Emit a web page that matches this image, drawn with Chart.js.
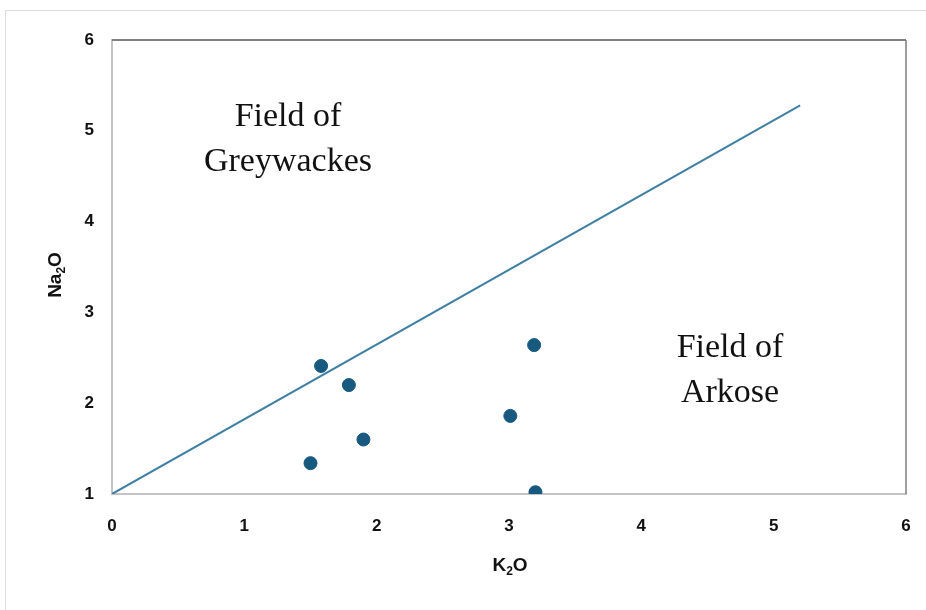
<!DOCTYPE html>
<html><head><meta charset="utf-8">
<script src="https://cdn.jsdelivr.net/npm/chart.js@4"></script>
<style>
html,body{margin:0;padding:0;background:#fff;}
#wrap{position:relative;width:926px;height:610px;overflow:hidden;}
#frame{position:absolute;left:5px;top:10px;width:940px;height:640px;border:1.5px solid #dcdcdc;box-sizing:border-box;}
canvas{position:absolute;left:0;top:0;}
</style></head>
<body><div id="wrap"><div id="frame"></div><canvas id="c" width="926" height="610"></canvas></div>
<script>
const k2o = [1.50, 1.58, 1.79, 1.90, 3.01, 3.19, 3.20];
const na2o = [1.34, 2.41, 2.20, 1.60, 1.86, 2.64, 1.02];
const lineX = [0, 5.2];
const lineY = [1, 5.28];
const xTicks = [0,1,2,3,4,5,6];
const yTicks = [1,2,3,4,5,6];
const labels = [
  {lines:["Field of","Greywackes"], x:1.33, y:5.15},
  {lines:["Field of","Arkose"], x:4.67, y:2.61}
];

const extras = {
  id:'extras',
  afterDraw(chart){
    const ctx = chart.ctx, a = chart.chartArea;
    const xs = chart.scales.x, ys = chart.scales.y;
    ctx.save();
    ctx.strokeStyle = '#7f7f7f';
    ctx.lineWidth = 2;
    ctx.beginPath(); ctx.moveTo(a.left, a.top); ctx.lineTo(a.right, a.top); ctx.stroke();
    ctx.lineWidth = 1.5;
    ctx.beginPath(); ctx.moveTo(a.right, a.top); ctx.lineTo(a.right, a.bottom); ctx.stroke();
    ctx.fillStyle = '#111';
    ctx.font = '34px "Liberation Serif", "Times New Roman", serif';
    ctx.textAlign = 'center'; ctx.textBaseline = 'middle';
    labels.forEach(l => {
      const px = xs.getPixelForValue(l.x), py = ys.getPixelForValue(l.y);
      l.lines.forEach((t,i) => ctx.fillText(t, px, py + i*45));
    });
    function sub(parts, cx, cy, rot){
      ctx.save();
      ctx.translate(cx, cy); ctx.rotate(rot);
      ctx.fillStyle = '#111';
      ctx.textBaseline = 'alphabetic'; ctx.textAlign = 'left';
      const big = 'bold 19px "Liberation Sans", Arial, sans-serif';
      const small = 'bold 12px "Liberation Sans", Arial, sans-serif';
      let w = 0;
      parts.forEach(p => { ctx.font = p.s ? small : big; w += ctx.measureText(p.t).width; });
      let x = -w/2;
      parts.forEach(p => {
        ctx.font = p.s ? small : big;
        ctx.fillText(p.t, x, p.s ? 11 : 7);
        x += ctx.measureText(p.t).width;
      });
      ctx.restore();
    }
    sub([{t:'K'},{t:'2',s:1},{t:'O'}], (a.left+a.right)/2 + 1, 564, 0);
    sub([{t:'Na'},{t:'2',s:1},{t:'O'}], 54, 275, -Math.PI/2);
    ctx.restore();
  }
};

new Chart(document.getElementById('c'), {
  type:'scatter',
  data:{datasets:[
    {data: lineX.map((x,i)=>({x, y:lineY[i]})), showLine:true, borderColor:'#3f7fa3', borderWidth:2, pointRadius:0, fill:false},
    {data: k2o.map((x,i)=>({x, y:na2o[i]})), backgroundColor:'#17597f', borderColor:'#17597f', pointRadius:6.5, pointHoverRadius:6.5}
  ]},
  options:{
    responsive:false, animation:false,
    layout:{padding:{left:0, right:20, top:40, bottom:0}},
    plugins:{legend:{display:false}, tooltip:{enabled:false}},
    scales:{
      x:{type:'linear', min:0, max:6,
        afterBuildTicks(s){ s.ticks = xTicks.map(v=>({value:v})); },
        afterFit(s){ s.height = 610-494; s.paddingLeft = 0; s.paddingRight = 0; },
        grid:{display:false, drawTicks:false},
        border:{display:true, color:'#c4c4c4', width:2},
        ticks:{padding:22, color:'#111', font:{family:'"Liberation Sans", Arial', size:17, weight:'bold'}}
      },
      y:{type:'linear', min:1, max:6,
        afterBuildTicks(s){ s.ticks = yTicks.map(v=>({value:v})); },
        afterFit(s){ s.width = 112; s.paddingTop = 0; s.paddingBottom = 0; },
        grid:{display:false, drawTicks:false},
        border:{display:true, color:'#c4c4c4', width:2},
        ticks:{padding:18, color:'#111', font:{family:'"Liberation Sans", Arial', size:17, weight:'bold'}}
      }
    }
  },
  plugins:[extras]
});
</script></body></html>
